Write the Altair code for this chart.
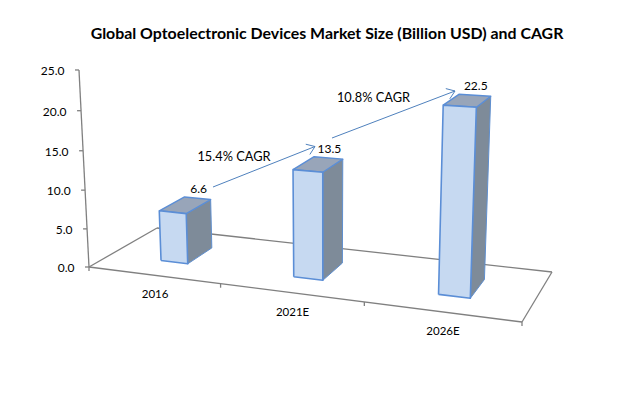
import altair as alt
import numpy as np
import pandas as pd

# ---- data ----
categories = ["2016", "2021E", "2026E"]
values = [6.6, 13.5, 22.5]
value_labels = ["6.6", "13.5", "22.5"]
y_ticks = [0, 5, 10, 15, 20, 25]
y_tick_labels = ["0.0", "5.0", "10.0", "15.0", "20.0", "25.0"]
title_text = "Global  Optoelectronic Devices Market Size (Billion  USD) and CAGR"
cagr_labels = ["15.4% CAGR", "10.8% CAGR"]

# ---- camera of the 3-D view (page pixels) ----
FLOOR = {"p00": (89, 267), "p10": (522, 322), "p11": (552, 272), "p01": (157, 228)}
VANISH = (325.0, 4908.0)
K = -0.001629
BAR_HALF = 0.104
BAR_W0, BAR_W1 = 0.30, 0.69
W, H = 624, 377
FONT = "Lato"


def _homography():
    (x0, y0), (x1, y1), (x2, y2), (x3, y3) = FLOOR["p00"], FLOOR["p10"], FLOOR["p11"], FLOOR["p01"]
    dx1, dx2, sx = x1 - x2, x3 - x2, x0 - x1 + x2 - x3
    dy1, dy2, sy = y1 - y2, y3 - y2, y0 - y1 + y2 - y3
    det = dx1 * dy2 - dx2 * dy1
    g = (sx * dy2 - dx2 * sy) / det
    h = (dx1 * sy - sx * dy1) / det
    return np.array([
        [x1 - x0 + g * x1, x3 - x0 + h * x3, x0],
        [y1 - y0 + g * y1, y3 - y0 + h * y3, y0],
        [g, h, 1.0],
    ])


HOM = _homography()


def project(u, w, v=0.0):
    """u: category units (0..3), w: depth (0..1), v: value."""
    p = HOM @ np.array([u / 3.0, w, 1.0])
    s = p[2]
    fx, fy = p[0] / s, p[1] / s
    t = v * K / (s + v * K)
    return fx + (VANISH[0] - fx) * t, fy + (VANISH[1] - fy) * t


def polygon_rows(points, bar, face):
    rows = []
    for i, (x, y) in enumerate(list(points) + [points[0]]):
        rows.append({"x": x, "y": y, "i": i, "bar": bar, "face": face})
    return rows


faces = []
top_points = []
for idx, (cat, val) in enumerate(zip(categories, values)):
    u0, u1 = idx + 0.505 - BAR_HALF, idx + 0.505 + BAR_HALF
    w0, w1 = BAR_W0, BAR_W1
    faces += polygon_rows(
        [project(u0, w0, 0), project(u1, w0, 0), project(u1, w0, val), project(u0, w0, val)], cat, "front")
    faces += polygon_rows(
        [project(u1, w0, 0), project(u1, w1, 0), project(u1, w1, val), project(u1, w0, val)], cat, "side")
    faces += polygon_rows(
        [project(u0, w0, val), project(u1, w0, val), project(u1, w1, val), project(u0, w1, val)], cat, "top")
    top_points.append(project(idx + 0.505, w1, val))
faces = pd.DataFrame(faces)

# floor and axes
edges = []
for a, b in [((0, 0), (3, 0)), ((3, 0), (3, 1)), ((3, 1), (0, 1)), ((0, 1), (0, 0))]:
    (x, y), (x2, y2) = project(*a), project(*b)
    edges.append({"x": x, "y": y, "x2": x2, "y2": y2})
ax0, ax1 = project(0, 0, 0), project(0, 0, y_ticks[-1])
edges.append({"x": ax0[0], "y": ax0[1], "x2": ax1[0], "y2": ax1[1]})
ylabels = []
for t, lab in zip(y_ticks, y_tick_labels):
    px, py = project(0, 0, t)
    edges.append({"x": px - 4, "y": py, "x2": px, "y2": py})
    ylabels.append({"x": px - 14.5, "y": py + 1, "label": lab})
for u in range(len(categories) + 1):
    px, py = project(u, 0)
    edges.append({"x": px, "y": py, "x2": px, "y2": py + 4})
edges = pd.DataFrame(edges)
ylabels = pd.DataFrame(ylabels)

xlabels = pd.DataFrame([
    {"x": project(i + 0.5, 0)[0] + 1.7, "y": project(i + 0.5, 0)[1] + 20, "label": c}
    for i, c in enumerate(categories)
])
dlabels = pd.DataFrame([
    {"x": p[0] + 1, "y": p[1] - 9, "label": l} for p, l in zip(top_points, value_labels)
])
cagr = pd.DataFrame({"x": [234, 373.5], "y": [156.5, 97.5], "label": cagr_labels})

# growth arrows (annotation, page pixels)
arrow_spans = [((213, 187), (315, 146.5)), ((332, 138), (455, 91))]
arrows = []
for n, (a, b) in enumerate(arrow_spans):
    d = np.array(b, float) - np.array(a, float)
    d /= np.hypot(*d)
    for m, ang in enumerate([0.62, -0.62]):
        c, s = np.cos(ang), np.sin(ang)
        rot = np.array([c * d[0] - s * d[1], s * d[0] + c * d[1]])
        tail = np.array(b) - 9.5 * rot
        arrows.append({"x": tail[0], "y": tail[1], "x2": b[0], "y2": b[1]})
    arrows.append({"x": a[0], "y": a[1], "x2": b[0], "y2": b[1]})
arrows = pd.DataFrame(arrows)

X = alt.X("x:Q", scale=alt.Scale(domain=[8, 8 + W], nice=False, zero=False), axis=None)
Y = alt.Y("y:Q", scale=alt.Scale(domain=[8 + H, 8], nice=False, zero=False), axis=None)


def rules(df, color, width):
    return alt.Chart(df).mark_rule(color=color, strokeWidth=width).encode(x=X, y=Y, x2="x2:Q", y2="y2:Q")


def face(kind, fill, stroke, width):
    return (
        alt.Chart(faces[faces.face == kind])
        .mark_line(fill=fill, stroke=stroke, strokeWidth=width, strokeJoin="round", interpolate="linear")
        .encode(x=X, y=Y, order="i:Q", detail="bar:N")
    )


def texts(df, size=12, align="center"):
    return alt.Chart(df).mark_text(
        font=FONT, fontSize=size, color="#000000", align=align, baseline="middle"
    ).encode(x=X, y=Y, text="label:N")


chart = alt.layer(
    rules(edges, "#808080", 1.3),
    face("side", "#7E8B99", "#5F8FCF", 1),
    face("top", "#98A5B9", "#5B8ED6", 1.4),
    face("front", "#C6D9F1", "#5B8ED6", 1.6),
    rules(arrows, "#4F81BD", 1),
    texts(ylabels, 12, "right"),
    texts(xlabels, 11.5),
    texts(dlabels, 12),
    texts(cagr, 12.8),
).properties(
    width=W,
    height=H,
    padding=0,
    autosize=alt.AutoSizeParams(type="none"),
    title=alt.TitleParams(
        title_text, font=FONT, fontSize=15.9, fontWeight="bold", color="#000000",
        anchor="middle", frame="group", offset=0, dx=7, dy=34,
    ),
).configure_view(stroke=None)

chart.save("out.html", embed_options={"renderer": "svg", "actions": False})
